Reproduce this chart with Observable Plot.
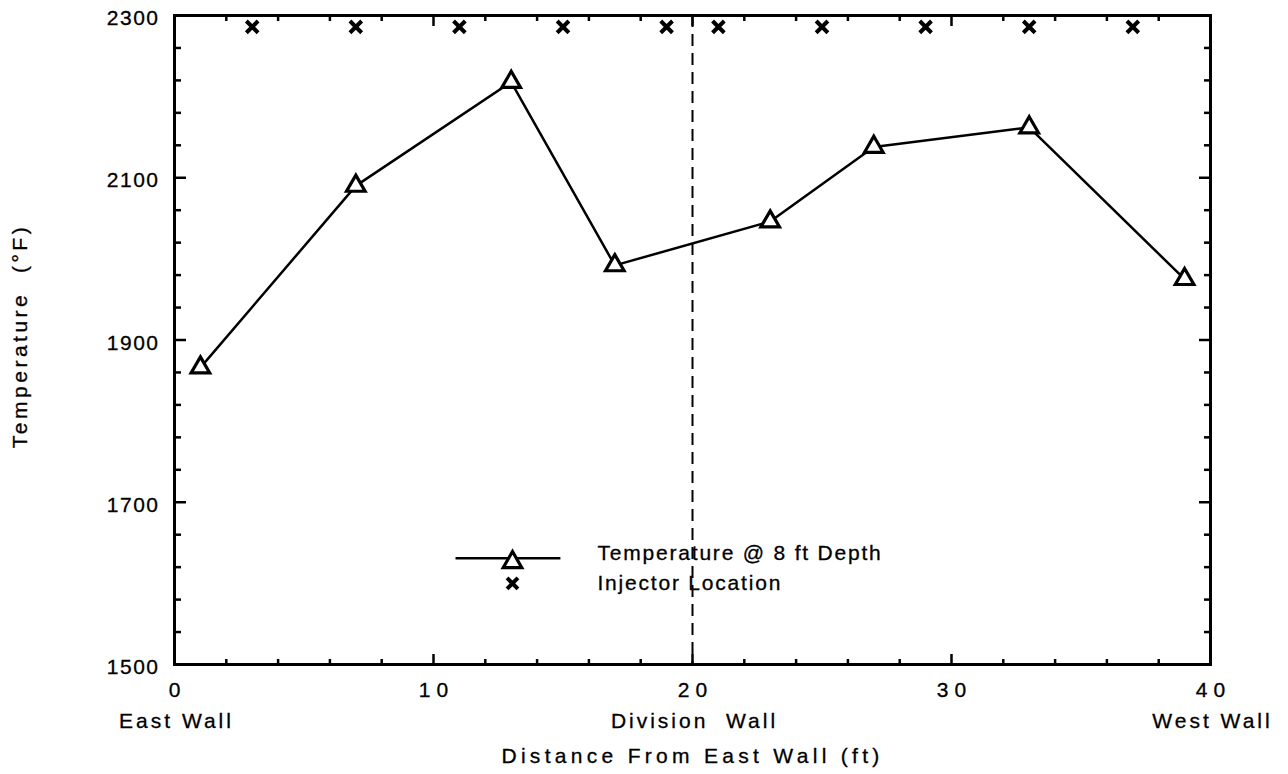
<!DOCTYPE html>
<html>
<head>
<meta charset="utf-8">
<script src="https://cdn.jsdelivr.net/npm/d3@7"></script>
<script src="https://cdn.jsdelivr.net/npm/@observablehq/plot@0.6"></script>
<style>
  body { margin: 0; background: #fff; }
  #chart svg { font-family: "Liberation Sans", Arial, Helvetica, sans-serif; }
  #chart text { white-space: pre; stroke: black; stroke-width: 0.3px; }
</style>
</head>
<body>
<div id="chart"></div>
<script>
// Temperature at 8 ft depth along the furnace, measured from the east wall
const distance = [1, 7, 13, 17, 23, 27, 33, 39];
const temperature = [1866, 2090, 2218, 1992, 2046, 2138, 2162, 1975];

// Injector positions (plotted along the top of the chart)
const injectorDistance = [3, 7, 11, 15, 19, 21, 25, 29, 33, 37];
const injectorLevel = [2286, 2286, 2286, 2286, 2286, 2286, 2286, 2286, 2286, 2286];

// Axis ticks and wall annotations
const xTicks = [0, 10, 20, 30, 40];
const xMinorTicks = [2, 4, 6, 8, 12, 14, 16, 18, 22, 24, 26, 28, 32, 34, 36, 38];
const yTicks = [1500, 1700, 1900, 2100, 2300];
const yMinorTicks = [1540, 1580, 1620, 1660, 1740, 1780, 1820, 1860, 1940, 1980, 2020, 2060, 2140, 2180, 2220, 2260];
const wallNames = ["East Wall", "Division  Wall", "West Wall"];
const wallDistance = [0, 20, 40];

const xTitle = "Distance From East Wall (ft)";
const yTitle = "Temperature  (°F)";
const legendLabels = ["Temperature @ 8 ft Depth", "Injector Location"];

const series = distance.map((d, i) => ({distance: d, temperature: temperature[i]}));
const injectors = injectorDistance.map((d, i) => ({distance: d, level: injectorLevel[i]}));
const walls = wallNames.map((name, i) => ({name, distance: wallDistance[i]}));

const blank = () => "";
const tickStroke = {strokeWidth: 2.5, tickFormat: blank, label: null};

const chart = Plot.plot({
  width: 1288,
  height: 774,
  marginLeft: 174,
  marginRight: 78,
  marginTop: 15,
  marginBottom: 110,
  style: {fontSize: "21px", color: "black", background: "white"},
  x: {domain: [0, 40]},
  y: {domain: [1500, 2300]},
  marks: [
    // inward ticks on all four sides
    Plot.axisX(xMinorTicks, {anchor: "bottom", tickSize: -5, ...tickStroke}),
    Plot.axisX(xTicks, {anchor: "bottom", tickSize: -10, ...tickStroke}),
    Plot.axisX(xMinorTicks, {anchor: "top", tickSize: -5, ...tickStroke}),
    Plot.axisX(xTicks, {anchor: "top", tickSize: -10, ...tickStroke}),
    Plot.axisY(yMinorTicks, {anchor: "left", tickSize: -7, ...tickStroke}),
    Plot.axisY(yTicks, {anchor: "left", tickSize: -12, ...tickStroke}),
    Plot.axisY(yMinorTicks, {anchor: "right", tickSize: -7, ...tickStroke}),
    Plot.axisY(yTicks, {anchor: "right", tickSize: -12, ...tickStroke}),

    // tick labels
    Plot.axisX(xTicks, {anchor: "bottom", tickSize: 0, tickPadding: 18, label: null, dx: 3, fontSize: 21, tickFormat: d => String(d)}),
    Plot.axisY(yTicks, {anchor: "left", tickSize: 0, tickPadding: 15, label: null, dy: 3, fontSize: 21, tickFormat: d => String(d)}),

    // wall names under the distance axis
    Plot.text(walls, {x: "distance", text: "name", frameAnchor: "bottom", lineAnchor: "top", dy: 49, dx: 2, fontSize: 21}),

    // axis titles
    Plot.text([xTitle], {text: d => d, frameAnchor: "bottom", lineAnchor: "top", dy: 84, dx: 0, fontSize: 21}),
    Plot.text([yTitle], {text: d => d, frameAnchor: "left", textAnchor: "middle", rotate: -90, lineAnchor: "top", dx: -162, dy: -4, fontSize: 21}),

    // division wall
    Plot.ruleX([wallDistance[1]], {strokeDasharray: "12,7", strokeWidth: 2}),

    // temperature profile
    Plot.line(series, {x: "distance", y: "temperature", strokeWidth: 2.5}),
    Plot.dot(series, {x: "distance", y: "temperature", symbol: "triangle", r: 6.9, fill: "white", stroke: "black", strokeWidth: 3.2}),

    // injectors
    Plot.dot(injectors, {x: "distance", y: "level", symbol: "times", r: 5.4, stroke: "black", strokeWidth: 4}),

    // legend
    Plot.link([0], {x1: 10.85, x2: 14.9, y1: 1631, y2: 1631, strokeWidth: 2.5}),
    Plot.dot([0], {x: 13.05, y: 1626, symbol: "triangle", r: 6.9, fill: "white", stroke: "black", strokeWidth: 3.2}),
    Plot.dot([0], {x: 13.05, y: 1600, symbol: "times", r: 5, stroke: "black", strokeWidth: 4}),
    Plot.text(legendLabels, {
      text: d => d, x: 16.33, y: (d, i) => [1637, 1600][i], textAnchor: "start", fontSize: 21
    }),

    Plot.frame({strokeWidth: 3})
  ]
});

// letter spacing for the typewritten look of the labels
const svg = d3.select(chart);
const spacing = (texts, px) => {
  svg.selectAll("text")
    .filter(function () { return texts.includes(this.textContent); })
    .style("letter-spacing", px);
};
spacing(xTicks.map(String), "6px");
spacing(yTicks.map(String), "1.5px");
spacing(wallNames, "3px");
spacing([xTitle], "4.3px");
spacing([yTitle], "3.5px");
spacing(legendLabels, "1.8px");

document.getElementById("chart").append(chart);
</script>
</body>
</html>
